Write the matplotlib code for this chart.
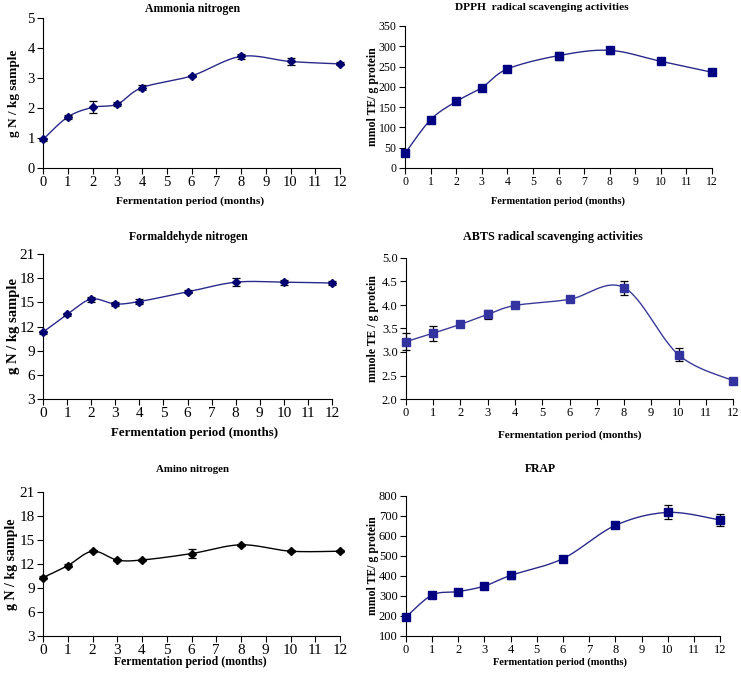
import numpy as np
import matplotlib
matplotlib.use("Agg")
import matplotlib.pyplot as plt

plt.rcParams['font.family'] = ['Liberation Serif', 'DejaVu Serif']

# months sampled
meses = [0, 1, 2, 3, 4, 6, 8, 10, 12]

amonia = [0.95, 1.70, 2.02, 2.13, 2.68, 3.07, 3.72, 3.55, 3.47]
amonia_err = [0.04, 0.06, 0.20, 0.07, 0.08, 0.04, 0.08, 0.12, 0.05]

dpph = [36, 119, 164, 198, 244, 277, 290, 263, 236]
dpph_err = [5, 5, 3, 4, 4, 10, 9, 4, 4]

formal = [11.3, 13.5, 15.4, 14.8, 15.1, 16.3, 17.5, 17.5, 17.4]
formal_err = [0.2, 0.2, 0.3, 0.2, 0.3, 0.2, 0.5, 0.3, 0.3]

abts = [3.22, 3.40, 3.59, 3.80, 3.99, 4.12, 4.37, 2.94, 2.39]
abts_err = [0.18, 0.16, 0.04, 0.09, 0.03, 0.03, 0.15, 0.14, 0.06]

amino = [10.3, 11.8, 13.6, 12.5, 12.5, 13.3, 14.4, 13.6, 13.6]
amino_err = [0.15, 0.15, 0.15, 0.15, 0.15, 0.6, 0.15, 0.15, 0.15]

frap = [195, 305, 322, 350, 403, 487, 653, 718, 680]
frap_err = [8, 10, 8, 5, 18, 6, 5, 35, 30]

W, H = 741, 678


def px(x, y):
    return x / W, 1 - y / H


def suave(xs, ys, n=30):
    # curva suavizada tipo excel (catmull-rom)
    xs = np.array(xs, float)
    ys = np.array(ys, float)
    P = np.column_stack([xs, ys])
    P = np.vstack([P[0], P, P[-1]])
    out = []
    for i in range(1, len(P) - 2):
        p0, p1, p2, p3 = P[i - 1], P[i], P[i + 1], P[i + 2]
        c1 = p1 + (p2 - p0) / 6
        c2 = p2 - (p3 - p1) / 6
        t = np.linspace(0, 1, n)[:, None]
        b = (1 - t) ** 3 * p1 + 3 * (1 - t) ** 2 * t * c1 + 3 * (1 - t) * t ** 2 * c2 + t ** 3 * p2
        out.append(b)
    out = np.vstack(out)
    return out[:, 0], out[:, 1]


fig = plt.figure(figsize=(W / 100, H / 100), dpi=100)

# (datos, err, ylim, yticks, caja px (x0, x1, ytop, ybot), titulo, ylabel, color linea, marcador, color marcador, tamaño ticks, formato)
paneles = [
    (amonia, amonia_err, (0, 5), np.arange(0, 6, 1), (43, 340, 18, 168),
     "Ammonia nitrogen", "g N / kg sample", "#2a2a8c", "D", "#000070", 10.5, False),
    (dpph, dpph_err, (0, 350), np.arange(0, 351, 50), (405, 712, 26, 168),
     "DPPH  radical scavenging activities", "mmol TE/ g protein", "#2a2a8c", "s", "#000080", 8.5, False),
    (formal, formal_err, (3, 21), np.arange(3, 22, 3), (43, 332, 254, 399),
     "Formaldehyde nitrogen", "g N / kg sample", "#2a2a8c", "D", "#000070", 11, False),
    (abts, abts_err, (2.0, 5.0), np.arange(2.0, 5.01, 0.5), (406, 733, 258, 399),
     "ABTS radical scavenging activities", "mmole TE / g protein", "#3a3a9a", "s", "#3333a0", 9, True),
    (amino, amino_err, (3, 21), np.arange(3, 22, 3), (43, 340, 492, 636),
     "Amino nitrogen", "g N / kg sample", "#000000", "D", "#000000", 11, False),
    (frap, frap_err, (100, 800), np.arange(100, 801, 100), (406, 720, 496, 636),
     "FRAP", "mmol TE/ g protein", "#2a2a8c", "s", "#000080", 9, False),
]

# textos en px: titulo (x, y), xlabel (x, y), ylabel x, tamaños (titulo, xlabel, ylabel)
textos = [
    ((193, 9), (190, 201), 14, (8.5, 8.2, 9.5)),
    ((542, 8), (558, 201), 373, (8.2, 7.5, 8.5)),
    ((188, 237), (195, 433), 14, (8.5, 9.3, 10.5)),
    ((553, 237), (570, 435), 373, (8.7, 8.0, 8.5)),
    ((193, 469), (190, 662), 12, (7.8, 8.5, 10)),
    ((540, 469), (560, 662), 373, (8.5, 7.5, 8.5)),
]

for (datos, err, ylim, yt, caja, tit, ylab, cl, mk, cm, fs, fmt1), (tp, xp, yx, tam) in zip(paneles, textos):
    x0, x1, yt_px, yb_px = caja
    l, b = px(x0, yb_px)
    r, t = px(x1, yt_px)
    ax = fig.add_axes([l, b, r - l, t - b])
    sx, sy = suave(meses, datos)
    ax.plot(sx, sy, color=cl, lw=1.0, zorder=2, clip_on=False)
    eb = ax.errorbar(meses, datos, yerr=err, fmt='none', ecolor='black', elinewidth=0.9,
                     capsize=3, capthick=0.9, zorder=3)
    for art in eb.get_children():
        art.set_clip_on(False)
    ms = 4 if mk == "D" else 5.5
    ax.plot(meses, datos, linestyle='none', marker=mk, color=cm, markersize=ms, zorder=4, clip_on=False)
    ax.set_xlim(0, 12)
    ax.set_ylim(*ylim)
    ax.set_xticks(range(0, 13))
    ax.set_yticks(yt)
    if fmt1:
        ax.set_yticklabels(["%.1f" % v for v in yt])
    ax.tick_params(labelsize=fs, length=4, width=0.8, direction='out', pad=2)
    ax.spines['top'].set_visible(False)
    ax.spines['right'].set_visible(False)
    for s in ['left', 'bottom']:
        ax.spines[s].set_linewidth(0.8)
    ax.set_facecolor('none')

    fx, fy = px(*tp)
    fig.text(fx, fy, tit, ha='center', va='center', fontsize=tam[0], fontweight='bold')
    fx, fy = px(*xp)
    fig.text(fx, fy, "Fermentation period (months)", ha='center', va='center',
             fontsize=tam[1], fontweight='bold')
    ymid = (yt_px + yb_px) / 2
    fx, fy = px(yx, ymid)
    fig.text(fx, fy, ylab, ha='center', va='center', rotation=90, fontsize=tam[2], fontweight='bold')

fig.savefig("out.png", dpi=100)
